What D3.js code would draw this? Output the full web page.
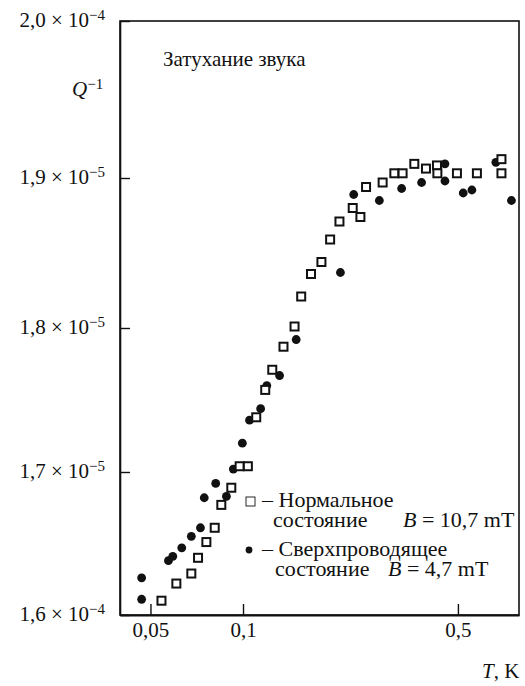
<!DOCTYPE html>
<html>
<head>
<meta charset="utf-8">
<script src="https://cdn.jsdelivr.net/npm/d3@7"></script>
<style>
  body { margin: 0; background: #fff; }
  svg { display: block; }
</style>
</head>
<body>
<div id="chart"></div>
<script>
// normal state (squares), B = 10,7 mT
const normT = [0.0543, 0.0607, 0.0679, 0.0714, 0.0760, 0.0809, 0.0850, 0.0916, 0.0975, 0.1037,
  0.1104, 0.1181, 0.1245, 0.1354, 0.1471, 0.1546, 0.1664, 0.1799, 0.1920, 0.2059,
  0.2274, 0.2409, 0.2513, 0.2845, 0.3106, 0.3304, 0.3607, 0.3936, 0.4274, 0.4287,
  0.4963, 0.5764, 0.6927, 0.6927];
const normQ = [1.610, 1.622, 1.629, 1.640, 1.651, 1.661, 1.677, 1.689, 1.704, 1.704,
  1.738, 1.757, 1.771, 1.787, 1.801, 1.821, 1.836, 1.844, 1.859, 1.871,
  1.880, 1.874, 1.894, 1.897, 1.903, 1.903, 1.909, 1.906, 1.908, 1.903,
  1.903, 1.903, 1.912, 1.903];

// superconducting state (dots), B = 4,7 mT
const superT = [0.0468, 0.0468, 0.0572, 0.0591, 0.0632, 0.0679, 0.0727, 0.0748, 0.0815, 0.0883,
  0.0930, 0.0995, 0.1050, 0.1141, 0.1195, 0.1315, 0.1489, 0.2074, 0.2291, 0.2776,
  0.3280, 0.3809, 0.4537, 0.4537, 0.5202, 0.5552, 0.6643, 0.7465];
const superQ = [1.626, 1.611, 1.638, 1.641, 1.647, 1.655, 1.661, 1.682, 1.692, 1.683,
  1.702, 1.720, 1.736, 1.744, 1.760, 1.767, 1.792, 1.837, 1.889, 1.885,
  1.893, 1.897, 1.909, 1.898, 1.890, 1.892, 1.910, 1.885];

const xTicks = [0.05, 0.1, 0.5];
const xTickLabels = ["0,05", "0,1", "0,5"];
const yTicks = [1.6, 1.7, 1.8, 1.9, 2.0];
const yTickMant = ["1,6", "1,7", "1,8", "1,9", "2,0"];
const yTickExp = ["−4", "−5", "−5", "−5", "−4"];

const W = 525, H = 686;
const serif = '"Liberation Serif"';
const svg = d3.select("#chart").append("svg")
  .attr("width", W)
  .attr("height", H);

const plotL = 120, plotR = 519, plotT = 21, plotB = 615;

const x = d3.scaleLog()
  .domain([0.0398, 0.790])
  .range([plotL, plotR]);
// the printed axis is not quite even, so map each tenth separately
const y = d3.scaleLinear()
  .domain(yTicks)
  .range([615, 472, 328, 178, 21]);

// frame
svg.append("rect")
  .attr("x", plotL).attr("y", plotT)
  .attr("width", plotR - plotL).attr("height", plotB - plotT)
  .attr("fill", "none")
  .attr("stroke", "#111")
  .attr("stroke-width", 1.6);

// x axis
const xAxis = svg.append("g")
  .attr("transform", `translate(0, ${plotB})`)
  .call(d3.axisBottom(x)
    .tickValues(xTicks)
    .tickSizeInner(-11)
    .tickSizeOuter(0)
    .tickPadding(7)
    .tickFormat((d, i) => xTickLabels[i]));
xAxis.select(".domain").attr("stroke-width", 2.2).attr("stroke", "#111");
xAxis.selectAll(".tick line").attr("stroke-width", 1.4).attr("stroke", "#111");
xAxis.selectAll("text").attr("font-size", 21);

// y axis
const yAxis = svg.append("g")
  .attr("transform", `translate(${plotL}, 0)`)
  .call(d3.axisLeft(y)
    .tickValues(yTicks)
    .tickSizeInner(-10)
    .tickSizeOuter(0)
    .tickPadding(15)
    .tickFormat(""));
yAxis.select(".domain").attr("stroke-width", 1.6).attr("stroke", "#111");
yAxis.selectAll(".tick line").attr("stroke-width", 1.4).attr("stroke", "#111");
yAxis.selectAll(".tick text")
  .attr("font-size", 21)
  .attr("dy", "0.25em")
  .each(function(d, i) {
    const t = d3.select(this);
    t.append("tspan").text(yTickMant[i] + " × 10");
    t.append("tspan")
      .attr("dy", "-0.45em")
      .attr("font-size", 15)
      .text(yTickExp[i]);
  });

// superconducting: dots
svg.append("g")
  .selectAll("circle")
  .data(superT.map((t, i) => ({t: t, q: superQ[i]})))
  .join("circle")
    .attr("cx", d => x(d.t))
    .attr("cy", d => y(d.q))
    .attr("r", 4.4)
    .attr("fill", "#111");

// normal: open squares
svg.append("g")
  .selectAll("rect")
  .data(normT.map((t, i) => ({t: t, q: normQ[i]})))
  .join("rect")
    .attr("x", d => x(d.t) - 4)
    .attr("y", d => y(d.q) - 4)
    .attr("width", 8)
    .attr("height", 8)
    .attr("fill", "#fff")
    .attr("stroke", "#111")
    .attr("stroke-width", 2);

// title and axis names
svg.append("text")
  .attr("x", 163).attr("y", 66)
  .attr("font-size", 21)
  .text("Затухание звука");

const qLab = svg.append("text")
  .attr("x", 72).attr("y", 96)
  .attr("font-size", 21);
qLab.append("tspan").attr("font-style", "italic").text("Q");
qLab.append("tspan").attr("dy", "-0.45em").attr("font-size", 15).text("−1");

const tLab = svg.append("text")
  .attr("x", 482).attr("y", 678)
  .attr("font-size", 21);
tLab.append("tspan").attr("font-style", "italic").text("T");
tLab.append("tspan").text(", K");

// legend
const legend = svg.append("g");
legend.append("rect")
  .attr("x", 246).attr("y", 497)
  .attr("width", 9).attr("height", 9)
  .attr("fill", "none")
  .attr("stroke", "#111")
  .attr("stroke-width", 0.9);
legend.append("text").attr("x", 262).attr("y", 507).text("– Нормальное");
const l2 = legend.append("text").attr("x", 273).attr("y", 527);
l2.append("tspan").text("состояние");
l2.append("tspan").attr("x", 403).attr("font-style", "italic").text("B");
l2.append("tspan").text(" = 10,7 mT");

legend.append("circle")
  .attr("cx", 249).attr("cy", 550)
  .attr("r", 3.4)
  .attr("fill", "#111");
legend.append("text").attr("x", 262).attr("y", 556).text("– Сверхпроводящее");
const l4 = legend.append("text").attr("x", 275).attr("y", 576);
l4.append("tspan").text("состояние");
l4.append("tspan").attr("x", 388).attr("font-style", "italic").text("B");
l4.append("tspan").text(" = 4,7 mT");
legend.selectAll("text").attr("font-size", 22);

// set the face on every text element itself
svg.selectAll("text")
  .attr("font-family", serif)
  .attr("fill", "#111");
</script>
</body>
</html>
